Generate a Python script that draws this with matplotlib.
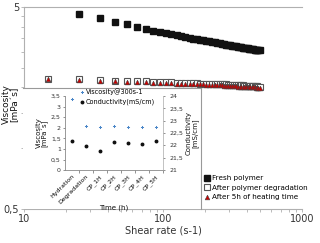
import matplotlib
matplotlib.use('agg')
import matplotlib.pyplot as plt
from matplotlib.ticker import FixedLocator, NullFormatter

# Main chart data: viscosity vs shear rate
shear_rate = [15, 25, 35, 45, 55, 65, 75, 85, 95, 105, 115, 125, 135, 145, 155, 165,
              175, 185, 195, 205, 215, 225, 235, 245, 255, 265, 275, 285, 295, 305,
              315, 325, 335, 345, 355, 365, 375, 385, 395, 405, 415, 425, 435, 445,
              455, 465, 475, 485, 495]
fresh = [None, 4.62, 4.42, 4.23, 4.12, 3.98, 3.89, 3.82, 3.76, 3.71, 3.66, 3.62, 3.58,
         3.55, 3.52, 3.49, 3.47, 3.45, 3.42, 3.40, 3.38, 3.37, 3.35, 3.33, 3.31, 3.29,
         3.28, 3.26, 3.25, 3.23, 3.22, 3.21, 3.19, 3.18, 3.17, 3.16, 3.15, 3.14, 3.13,
         3.12, 3.11, 3.10, 3.10, 3.09, 3.08, 3.07, 3.07, 3.06, 3.06]
degraded = [2.21, 2.19, 2.17, 2.16, 2.15, 2.14, 2.14, 2.13, 2.13, 2.12, 2.12, 2.11, 2.11,
            2.11, 2.10, 2.10, 2.10, 2.09, 2.09, 2.09, 2.08, 2.08, 2.08, 2.08, 2.07, 2.07,
            2.07, 2.07, 2.06, 2.06, 2.06, 2.06, 2.05, 2.05, 2.05, 2.05, 2.05, 2.04, 2.04,
            2.04, 2.04, 2.04, 2.03, 2.03, 2.03, 2.03, 2.03, 2.02, 2.02]
heated = [2.19, 2.17, 2.15, 2.14, 2.13, 2.12, 2.12, 2.11, 2.11, 2.10, 2.10, 2.09, 2.09,
          2.08, 2.08, 2.08, 2.07, 2.07, 2.07, 2.06, 2.06, 2.06, 2.05, 2.05, 2.05, 2.05,
          2.04, 2.04, 2.04, 2.03, 2.03, 2.03, 2.03, 2.02, 2.02, 2.02, 2.02, 2.01, 2.01,
          2.01, 2.01, 2.00, 2.00, 2.00, 2.00, 1.99, 1.99, 1.99, 1.98]

# Inset data
stages = ['Hydration', 'Degradation', 'CP_1H', 'CP_2H', 'CP_3H', 'CP_4H', 'CP_5H']
visc_300 = [3.36, 2.06, 2.05, 2.06, 2.05, 2.05, 2.05]
conductivity = [22.17, 21.99, 21.78, 22.15, 22.11, 22.05, 22.17]

plt.rcParams['font.family'] = 'DejaVu Sans'
gray = '#b0b0b0'
txt = '#333333'

fig = plt.figure(figsize=(3.2, 2.43), dpi=100)

# Main axes
ax = fig.add_axes([0.075, 0.14, 0.869, 0.831])
ax.set_xscale('log')
ax.set_yscale('log')
ax.set_xlim(10, 1000)
ax.set_ylim(0.5, 5)

fx = [s for s, v in zip(shear_rate, fresh) if v is not None]
fy = [v for v in fresh if v is not None]
ax.plot(fx, fy, 's', color='#111111', markersize=4.8, label='Fresh polymer', zorder=3)
ax.plot(shear_rate, degraded, 's', mfc='white', mec='#555555', mew=0.8,
        markersize=4.4, label='After polymer degradation', zorder=3)
ax.plot(shear_rate, heated, '^', mfc='#cc0000', mec='#444444', mew=0.4,
        markersize=3.4, label='After 5h of heating time', zorder=4)

ax.yaxis.set_major_locator(FixedLocator([0.5, 5]))
ax.set_yticklabels(['0,5', '5'])
ax.yaxis.set_minor_locator(FixedLocator([1, 1.5, 2, 2.5, 3, 3.5, 4, 4.5]))
ax.yaxis.set_minor_formatter(NullFormatter())
ax.xaxis.set_major_locator(FixedLocator([10, 100, 1000]))
ax.set_xticklabels(['10', '100', '1000'])
ax.xaxis.set_minor_locator(FixedLocator([20, 30, 40, 50, 60, 70, 80, 90,
                                         200, 300, 400, 500, 600, 700, 800, 900]))
ax.xaxis.set_minor_formatter(NullFormatter())
ax.tick_params(which='both', colors=gray, labelcolor=txt, labelsize=7, length=2, width=0.6,
               pad=1.5)
for side in ['left', 'bottom', 'top']:
    ax.spines[side].set_color(gray)
    ax.spines[side].set_linewidth(0.8)
ax.spines['right'].set_visible(False)
ax.set_xlabel('Shear rate (s-1)', fontsize=7, color=txt, labelpad=1)
ax.set_ylabel('Viscosity\n[mPa´s]', fontsize=6.5, color='#111111', linespacing=0.9)
ax.yaxis.set_label_coords(-0.018, 0.52)
ax.legend(loc='lower left', bbox_to_anchor=(0.635, 0.175), bbox_transform=fig.transFigure,
          frameon=False, fontsize=5.2, handletextpad=0.2, labelspacing=0.5,
          handlelength=1.0, borderaxespad=0, borderpad=0)

# White box behind inset
box = fig.add_axes([0.072, 0.14, 0.556, 0.498])
box.set_xticks([])
box.set_yticks([])
box.set_facecolor('white')
for side in ['left', 'bottom']:
    box.spines[side].set_visible(False)
for side in ['top', 'right']:
    box.spines[side].set_color('#999999')
    box.spines[side].set_linewidth(0.8)

# Inset axes
ins = fig.add_axes([0.203, 0.30, 0.306, 0.305])
pos = list(range(len(stages)))
l1, = ins.plot(pos, visc_300, 'P', color='#4a86c8', markersize=2.2, mew=0,
               label='Viscosity@300s-1')
ins.set_xlim(-0.5, len(stages) - 0.5)
ins.set_ylim(0, 3.5)
ins.set_yticks([0, 0.5, 1, 1.5, 2, 2.5, 3, 3.5])
ins.set_yticklabels(['0', '0,5', '1', '1,5', '2', '2,5', '3', '3,5'])
ins.set_xticks(pos)
ins.set_xticklabels(stages, rotation=45, ha='right', rotation_mode='anchor')
ins.set_xticks([p + 0.5 for p in pos], minor=True)
ins.tick_params(axis='x', which='major', length=0, labelsize=4.5, pad=2.5)
ins.tick_params(axis='x', which='minor', length=2, width=0.5, colors='#666666')
ins.tick_params(axis='y', labelsize=4.5, length=1.5, width=0.5, pad=1.5, colors='#666666',
                labelcolor=txt)
ins.spines['top'].set_visible(False)
ins.spines['right'].set_visible(False)
for side in ['left', 'bottom']:
    ins.spines[side].set_color('#888888')
    ins.spines[side].set_linewidth(0.6)
ins.set_xlabel('Time (h)', fontsize=5, color='#111111', labelpad=0)
ins.set_ylabel('Viscosity\n[mPa´s]', fontsize=5, color='#111111', labelpad=2,
               linespacing=0.9)

ins2 = ins.twinx()
l2, = ins2.plot(pos, conductivity, 'o', color='#111111', markersize=1.8,
                label='Conductivity(mS/cm)')
ins2.set_ylim(21, 24)
ins2.set_yticks([21, 21.5, 22, 22.5, 23, 23.5, 24])
ins2.set_yticklabels(['21', '21,5', '22', '22,5', '23', '23,5', '24'])
ins2.tick_params(axis='y', labelsize=4.5, length=1.5, width=0.5, pad=3, colors='#666666',
                 labelcolor=txt)
for side in ['top', 'left', 'bottom']:
    ins2.spines[side].set_visible(False)
ins2.spines['right'].set_color('#aaaaaa')
ins2.spines['right'].set_linewidth(0.5)
ins2.set_ylabel('Conductivity\n[mS/cm]', fontsize=5, color='#111111', labelpad=2,
                linespacing=0.9)

ins.legend(handles=[l1, l2], loc='upper left', bbox_to_anchor=(0.11, 1.14),
           frameon=False, fontsize=4.7, handletextpad=0.1, labelspacing=0.6,
           handlelength=1.0, borderaxespad=0)

fig.savefig('out.png', dpi=100)
